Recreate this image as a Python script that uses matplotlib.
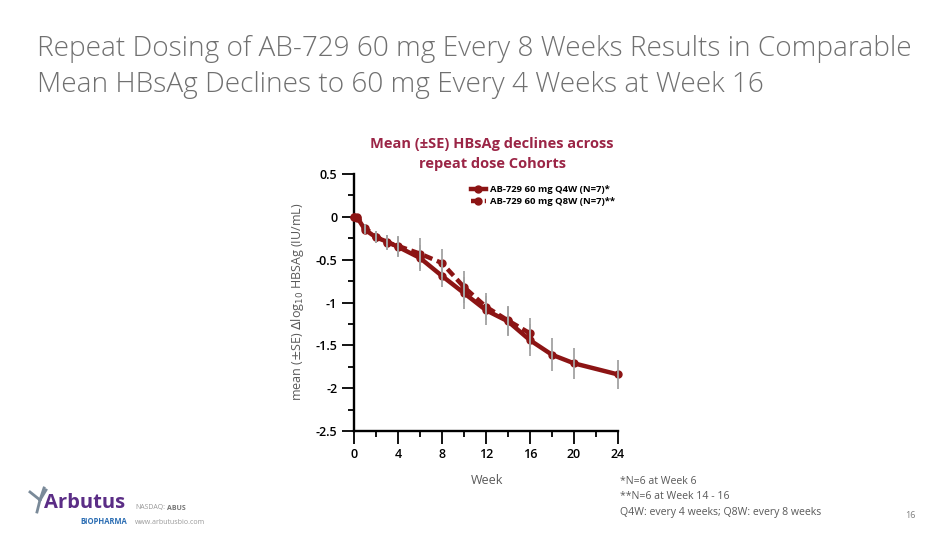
import matplotlib.pyplot as plt
from matplotlib.lines import Line2D
from matplotlib.ticker import MultipleLocator

W, H = 950, 534

# data
weeks_q4w = [0, 0.3, 1, 2, 3, 4, 6, 8, 10, 12, 14, 16, 18, 20, 24]
mean_q4w = [0, -0.01, -0.15, -0.24, -0.29, -0.35, -0.48, -0.69, -0.89,
            -1.09, -1.22, -1.44, -1.61, -1.71, -1.84]
se_q4w = [0, 0, 0.05, 0.07, 0.08, 0.12, 0.15, 0.13, 0.19, 0.17, 0.17,
          0.19, 0.19, 0.18, 0.17]

weeks_q8w = [0, 0.3, 1, 2, 3, 4, 6, 8, 10, 12, 14, 16]
mean_q8w = [0, 0, -0.13, -0.23, -0.30, -0.34, -0.43, -0.54, -0.82,
            -1.05, -1.21, -1.36]
se_q8w = [0, 0, 0.05, 0.07, 0.09, 0.12, 0.18, 0.16, 0.19, 0.16, 0.17,
          0.18]

labels = ['AB-729 60 mg Q4W (N=7)*', 'AB-729 60 mg Q8W (N=7)**']
footnotes = ['*N=6 at Week 6', '**N=6 at Week 14 - 16',
             'Q4W: every 4 weeks; Q8W: every 8 weeks']

RED = '#8c1414'
GREY_TXT = '#595959'
plt.rcParams['font.family'] = ['Open Sans', 'DejaVu Sans']


def px(x, y):
    return x / W, 1 - y / H


fig = plt.figure(figsize=(W / 100, H / 100), dpi=100)
fig.patch.set_facecolor('white')

# slide title
fig.text(*px(37, 56), 'Repeat Dosing of AB-729 60 mg Every 8 Weeks Results in Comparable',
         fontsize=20.2, color='#707070', fontweight='light', va='baseline')
fig.text(*px(37, 92), 'Mean HBsAg Declines to 60 mg Every 4 Weeks at Week 16',
         fontsize=20.2, color='#707070', fontweight='light', va='baseline')

ax = fig.add_axes([px(354, 0)[0], px(0, 431)[1], (618 - 354) / W, (431 - 174) / H])

ax.errorbar(weeks_q4w, mean_q4w, yerr=se_q4w, fmt='none', ecolor='#a3a3a3',
            elinewidth=1.3, capsize=0, zorder=4, clip_on=False)
ax.errorbar(weeks_q8w, mean_q8w, yerr=se_q8w, fmt='none', ecolor='#a3a3a3',
            elinewidth=1.3, capsize=0, zorder=4, clip_on=False)
ax.plot(weeks_q4w, mean_q4w, color=RED, lw=3.2, marker='o', ms=5,
        label=labels[0], zorder=3, clip_on=False)
ax.plot(weeks_q8w, mean_q8w, color=RED, lw=3.2, ls=(0, (2.0, 1.1)), marker='o',
        ms=5, label=labels[1], zorder=3, clip_on=False)

ax.set_xlim(0, 24)
ax.set_ylim(-2.5, 0.5)
ax.xaxis.set_major_locator(MultipleLocator(4))
ax.xaxis.set_minor_locator(MultipleLocator(2))
ax.yaxis.set_minor_locator(MultipleLocator(0.25))
yt = [0.5, 0, -0.5, -1, -1.5, -2, -2.5]
ax.set_yticks(yt)
ax.set_yticklabels(['0.5', '0', '-0.5', '-1', '-1.5', '-2', '-2.5'])
for s in ['top', 'right']:
    ax.spines[s].set_visible(False)
for s in ['left', 'bottom']:
    ax.spines[s].set_linewidth(1.7)
ax.tick_params(which='major', length=9, width=1.3, labelsize=9, pad=3)
ax.tick_params(which='minor', length=4.5, width=1.3)
for t in ax.get_xticklabels() + ax.get_yticklabels():
    t.set_fontweight('semibold')

leg = ax.legend(loc='upper left', bbox_to_anchor=(0.41, 0.99), frameon=False,
                handlelength=1.6, handletextpad=0.4, labelspacing=0.3,
                prop={'size': 6.8, 'weight': 'bold'})

# chart title and axis titles
fig.text(*px(492, 148), 'Mean (±SE) HBsAg declines across', ha='center',
         va='baseline', fontsize=10.5, fontweight='bold', color='#9b2546')
fig.text(*px(492, 168), 'repeat dose Cohorts', ha='center', va='baseline',
         fontsize=10.5, fontweight='bold', color='#9b2546')
fig.text(*px(297, 302), r'mean ($\pm$SE) $\Delta$log$_{10}$ HBSAg (IU/mL)',
         rotation=90, ha='center', va='center', fontsize=9, color=GREY_TXT)
fig.text(*px(487, 481), 'Week', ha='center', va='center', fontsize=9,
         color=GREY_TXT)

for i, line in enumerate(footnotes):
    fig.text(*px(620, 481 + i * 15.5), line, va='center', fontsize=7.6,
             color=GREY_TXT)
fig.text(*px(910, 516), '16', ha='center', va='center', fontsize=6.5,
         color='#7f7f7f')

# logo
for xs, ys in [((37, 40, 40), (512, 500, 500)), ((40, 30), (500, 492)),
               ((40, 46), (500, 490)), ((40, 44), (500, 488))]:
    fig.add_artist(Line2D([px(x, 0)[0] for x in xs], [px(0, y)[1] for y in ys],
                          color='#7a8a99', lw=2, transform=fig.transFigure))
fig.text(*px(44, 503), 'Arbutus', va='center', fontsize=14.5, fontweight='bold',
         color='#5b2d86')
fig.text(*px(127, 522), 'BIOPHARMA', ha='right', va='center', fontsize=5.5,
         fontweight='bold', color='#2b6db3')
fig.text(*px(135, 508), 'NASDAQ:', va='center', fontsize=5, color='#999999')
fig.text(*px(167, 508), 'ABUS', va='center', fontsize=5, color='#777777',
         fontweight='bold')
fig.text(*px(135, 522), 'www.arbutusbio.com', va='center', fontsize=5,
         color='#999999')

fig.savefig('out.png', dpi=100)
